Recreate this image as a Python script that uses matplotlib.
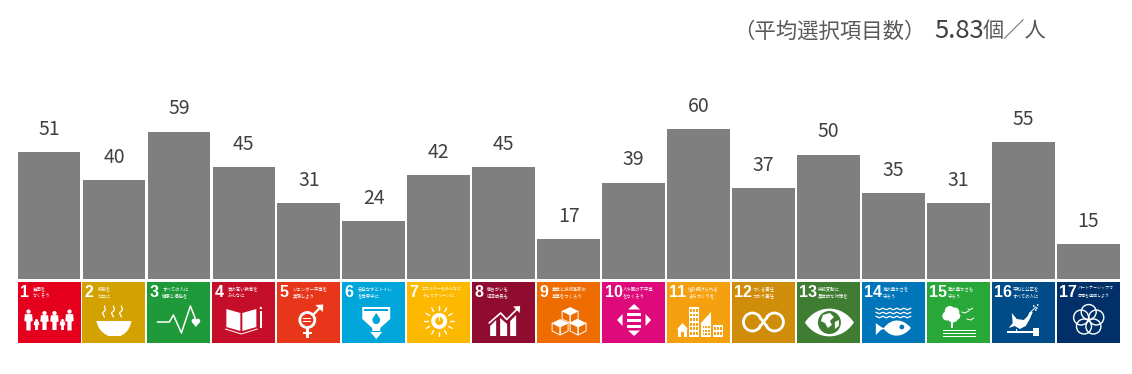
import matplotlib
matplotlib.use("Agg")
import matplotlib.pyplot as plt
from matplotlib.patches import Rectangle, Circle, Polygon, PathPatch
from matplotlib.path import Path
from matplotlib import font_manager as fm

plt.rcParams['font.family'] = ['Noto Sans CJK JP', 'DejaVu Sans']

goal_numbers = list(range(1, 18))
values = [51, 40, 59, 45, 31, 24, 42, 45, 17, 39, 60, 37, 50, 35, 31, 55, 15]
goal_line1 = ["貧困を", "飢餓を", "すべての人に", "質の高い教育を", "ジェンダー平等を", "安全な水とトイレ",
              "エネルギーをみんなに", "働きがいも", "産業と技術革新の", "人や国の不平等", "住み続けられる",
              "つくる責任", "気候変動に", "海の豊かさを", "陸の豊かさも", "平和と公正を", "パートナーシップで"]
goal_line2 = ["なくそう", "ゼロに", "健康と福祉を", "みんなに", "実現しよう", "を世界中に",
              "そしてクリーンに", "経済成長も", "基盤をつくろう", "をなくそう", "まちづくりを",
              "つかう責任", "具体的な対策を", "守ろう", "守ろう", "すべての人に", "目標を達成しよう"]
goal_colors = ["#E5001E", "#D3A100", "#1E9A3A", "#C50F2A", "#E8361A", "#00A6D9", "#FDB900", "#8F0C30",
               "#EE6C00", "#DE0A7C", "#F5A00F", "#CF8D0A", "#3F7E32", "#0075BA", "#27A838", "#004C88", "#003067"]

W, H = 1132, 374
fig = plt.figure(figsize=(W / 100, H / 100), dpi=100, facecolor="white")

# bars
STEP = 64.95
LEFT = 49 - STEP / 2
BASE = 282.3
TOP = 129.0
ax = fig.add_axes([LEFT / W, 1 - BASE / H, 17 * STEP / W, (BASE - TOP) / H])
ax.set_xlim(-0.5, 16.5)
ax.set_ylim(0, 60)
ax.axis("off")
xs = list(range(17))
ax.bar(xs, values, width=0.965, color="#7F7F7F", linewidth=0)
for x, v in zip(xs, values):
    ax.annotate(str(v), (x, v), xytext=(0, 8.8), textcoords="offset points", ha="center", va="bottom",
                fontsize=14, color="#404040", annotation_clip=False)

# full-figure pixel layer for tiles and header, above the bars
px = fig.add_axes([0, 0, 1, 1])
px.set_zorder(5)
px.set_xlim(0, W)
px.set_ylim(H, 0)
px.axis("off")
px.add_patch(Rectangle((0, 279), W, 3.5, fc="white", ec="none", zorder=1))

# header
px.text(733.5, 32, "（平均選択項目数）", fontsize=15.4, color="#595959", ha="left", va="center")
px.text(934, 31, "5.83", fontsize=18.5, color="#404040", ha="left", va="center")
px.text(983, 32, "個／人", fontsize=15.3, color="#595959", ha="left", va="center")

# a narrow bold face for the goal numbers, if one is there
NUM_FAMILY, NUM_SIZE = "Liberation Sans", 11.5
for fam in ("Liberation Sans Narrow", "DejaVu Sans Condensed"):
    try:
        fm.findfont(fm.FontProperties(family=fam, weight="bold"), fallback_to_default=False)
        NUM_FAMILY, NUM_SIZE = fam, 12.5
        break
    except ValueError:
        pass


class Icon:
    """White pictogram pieces, given in tile-local pixels."""
    def __init__(self, x0, y0, color):
        self.x0, self.y0, self.color = x0, y0, color

    def t(self, pts):
        return [(self.x0 + a, self.y0 + b) for a, b in pts]

    def rect(self, x, y, w, h, c="white"):
        px.add_patch(Rectangle((self.x0 + x, self.y0 + y), w, h, fc=c, ec="none", zorder=3))

    def circ(self, x, y, r, c="white", ec="none", lw=0):
        px.add_patch(Circle((self.x0 + x, self.y0 + y), r, fc=c, ec=ec, lw=lw, zorder=3))

    def ring(self, x, y, r, lw=1.4, c="white"):
        px.add_patch(Circle((self.x0 + x, self.y0 + y), r, fc="none", ec=c, lw=lw, zorder=3))

    def poly(self, pts, c="white", ec="none", lw=0, fill=True):
        px.add_patch(Polygon(self.t(pts), closed=True, fc=c if fill else "none", ec=ec, lw=lw, zorder=3))

    def line(self, pts, lw=1.0, c="white"):
        a = self.t(pts)
        px.plot([p[0] for p in a], [p[1] for p in a], color=c, lw=lw, solid_capstyle="round",
                solid_joinstyle="round", zorder=3)

    def curve(self, verts, codes, c="white", fill=True, lw=1.0):
        px.add_patch(PathPatch(Path(self.t(verts), codes), fc=c if fill else "none",
                               ec="none" if fill else c, lw=0 if fill else lw, zorder=3))


def person(ic, x, top, h, w):
    ic.circ(x, top + w * 0.35, w * 0.36)
    ic.poly([(x - w * 0.6, top + h * 0.22), (x + w * 0.6, top + h * 0.22), (x + w * 0.7, top + h * 0.55),
             (x + w * 0.35, top + h * 0.58), (x + w * 0.35, top + h), (x - w * 0.35, top + h),
             (x - w * 0.35, top + h * 0.58), (x - w * 0.7, top + h * 0.55)])


def icon1(ic):
    for x, top, h, w in [(11, 27.5, 21, 6), (19, 37, 11, 4), (27, 29, 19, 6),
                         (37, 29, 19, 6), (45, 37, 11, 4), (52, 27.5, 21, 6)]:
        person(ic, x, top, h, w)


def icon2(ic):
    M, C, L = Path.MOVETO, Path.CURVE4, Path.LINETO
    ic.curve([(14, 39), (16, 50), (24, 53), (26, 54), (38, 54), (40, 53), (47, 50), (49, 39), (14, 39)],
             [M, C, C, L, L, C, C, C, L])
    for x in (22, 31, 39):
        ic.line([(x, 35), (x - 2, 31), (x + 1, 28), (x, 24)], lw=0.9)


def icon3(ic):
    ic.line([(10, 40), (22, 40), (26, 33), (34, 51), (43, 24), (48, 37)], lw=1.1)
    ic.circ(46.5, 39, 2.3)
    ic.circ(50.5, 39, 2.3)
    ic.poly([(44.5, 40), (52.5, 40), (48.5, 45)])


def icon4(ic):
    ic.poly([(14, 27), (28, 31), (28, 49), (14, 45)])
    ic.poly([(30, 31), (44, 27), (44, 45), (30, 49)])
    ic.line([(13, 47), (29, 52), (45, 47)], lw=0.7)
    ic.rect(47.5, 29, 2, 17)
    ic.circ(48.5, 26, 1.2)


def icon5(ic):
    ic.ring(30, 38, 7.5, lw=2)
    ic.rect(26, 35.5, 8, 1.6)
    ic.rect(26, 38.8, 8, 1.6)
    ic.line([(35.5, 33), (44, 24.5)], lw=1.6)
    ic.poly([(38, 23), (46, 22.5), (45.5, 30)])
    ic.rect(29, 46, 2.2, 10)
    ic.rect(25.5, 50, 9, 2.2)


def icon6(ic):
    ic.poly([(20, 25), (48, 25), (48, 37), (38, 46), (38, 49), (30, 49), (30, 46), (20, 37)])
    ic.poly([(22, 27), (46, 27), (46, 29), (22, 29)], c=ic.color)
    ic.poly([(34, 31), (38, 37), (37, 40), (31, 40), (30, 37)], c=ic.color)
    ic.circ(34, 38.5, 3.6, c=ic.color)
    ic.poly([(28, 50), (40, 50), (34, 57)])


def icon7(ic):
    cx, cy = 32, 39
    ic.circ(cx, cy, 8)
    ic.circ(cx, cy, 4, c=ic.color)
    ic.rect(cx - 0.7, cy - 5, 1.4, 4.5)
    rays = [(0, -15, 0, -11), (7.5, -13, 5.5, -9.5), (13, -7.5, 9.5, -5.5), (15, 0, 11, 0),
            (13, 7.5, 9.5, 5.5), (7.5, 13, 5.5, 9.5), (0, 15, 0, 11), (-7.5, 13, -5.5, 9.5),
            (-13, 7.5, -9.5, 5.5), (-15, 0, -11, 0), (-13, -7.5, -9.5, -5.5), (-7.5, -13, -5.5, -9.5)]
    for a, b, c, d in rays:
        ic.line([(cx + a, cy + b), (cx + c, cy + d)], lw=1.0)


def icon8(ic):
    ic.poly([(18, 44), (24, 38), (24, 54), (18, 54)])
    ic.poly([(28, 36), (35, 42), (35, 54), (28, 54)])
    ic.poly([(38, 39), (44, 33), (44, 54), (38, 54)])
    ic.line([(17, 41), (28.5, 31), (34.5, 37.5), (45, 27)], lw=1.2)
    ic.poly([(41, 24.5), (48, 24), (47.5, 31)])


def cube(ic, x, y, r):
    top = [(x, y - r), (x + r, y - r / 2), (x, y), (x - r, y - r / 2)]
    left = [(x - r, y - r / 2), (x, y), (x, y + r), (x - r, y + r / 2)]
    right = [(x + r, y - r / 2), (x, y), (x, y + r), (x + r, y + r / 2)]
    ic.poly(top)
    for f in (left, right):
        ic.poly(f, ec="white", lw=0.7, fill=False)


def icon9(ic):
    cube(ic, 33, 33, 8)
    cube(ic, 23, 45, 8)
    cube(ic, 41, 45, 8)


def icon10(ic):
    ic.poly([(32, 22), (38, 27.5), (26, 27.5)])
    ic.poly([(32, 54), (38, 48.5), (26, 48.5)])
    ic.poly([(15, 38), (20.5, 32), (20.5, 44)])
    ic.poly([(49, 38), (43.5, 32), (43.5, 44)])
    for y in (30.5, 36.5, 42.5):
        ic.rect(25, y, 14, 3)


def icon11(ic):
    ic.poly([(15.5, 41), (21, 47), (10, 47)])
    ic.rect(11, 47, 9, 8)
    ic.rect(14, 50, 3, 5, c=ic.color)
    ic.rect(22, 25, 10, 30)
    for r in range(6):
        for c_ in range(3):
            ic.rect(23 + c_ * 3, 27 + r * 4.6, 1.8, 2.8, c=ic.color)
    ic.poly([(34, 55), (34, 41), (44, 30), (44, 55)])
    for r in range(3):
        for c_ in range(3):
            ic.rect(35.5 + c_ * 2.8, 44 + r * 3.6, 1.6, 2.2, c=ic.color)
    ic.rect(46, 43, 10, 12)
    for r in range(2):
        for c_ in range(3):
            ic.rect(47 + c_ * 3, 45 + r * 4.6, 1.9, 3, c=ic.color)


def icon12(ic):
    ic.ring(20.5, 40, 9, lw=2)
    ic.ring(42.5, 40, 9, lw=2)
    ic.rect(28, 34, 7, 12, c=ic.color)
    ic.line([(27, 34), (36, 46)], lw=2)
    ic.line([(27, 46), (36, 34)], lw=2)


def icon13(ic):
    M, C = Path.MOVETO, Path.CURVE4
    ic.curve([(8, 40.5), (20, 22), (45, 22), (57, 40.5), (45, 59), (20, 59), (8, 40.5)],
             [M, C, C, C, C, C, C])
    ic.circ(32.5, 40.5, 11.5, c=ic.color)
    ic.poly([(26, 33), (33, 31), (37, 35), (33, 39), (35, 43), (31, 46), (28, 41), (24, 39)])
    ic.poly([(38, 40), (42, 38), (42, 44), (38, 47)])


def icon14(ic):
    for y in (27, 31, 35):
        pts = [(14 + i * 3.5, y + (0.8 if i % 2 else -0.8)) for i in range(11)]
        ic.line(pts, lw=0.9)
    M, C, L = Path.MOVETO, Path.CURVE4, Path.LINETO
    ic.curve([(14, 41), (19, 45), (19, 45), (22, 46), (30, 35), (42, 37), (49, 46),
              (42, 55), (30, 57), (22, 47), (19, 48), (19, 48), (14, 53), (14, 41)],
             [M, C, C, L, C, C, C, C, C, C, L, L, L, L])
    ic.circ(40, 45, 2.4, c=ic.color)


def icon15(ic):
    for x, y, r in [(23, 29, 5), (28, 30, 4.5), (20, 34, 4.5), (26, 35, 5.5), (30, 34, 3.5)]:
        ic.circ(x, y, r)
    ic.rect(24, 38, 2, 8)
    for y in (48, 51, 54):
        ic.rect(16, y, 33, 1.3)
    for pts in ([(35, 30), (38, 31), (42, 29)], [(41, 27), (43, 28), (46, 26)], [(40, 37), (44, 38), (47, 36)]):
        ic.line(pts, lw=0.7)


def icon16(ic):
    ic.poly([(20, 31), (25, 37), (32, 38), (36, 34), (38, 30), (41, 30), (38, 37), (34, 44), (28, 47), (23, 44), (17, 46), (21, 41)])
    ic.line([(38, 31), (44, 25)], lw=0.7)
    for x, y in [(42, 24), (45, 26), (44, 28), (46, 23)]:
        ic.circ(x, y, 0.9)
    ic.rect(15, 49, 27, 1.8)
    ic.rect(41, 46, 6, 8)
    ic.rect(24, 47, 1.2, 3)


def icon17(ic):
    for dx, dy in [(0, -8), (7.6, -2.5), (4.7, 6.5), (-4.7, 6.5), (-7.6, -2.5)]:
        ic.ring(32 + dx, 38 + dy, 7.5, lw=1.0)


icons = [icon1, icon2, icon3, icon4, icon5, icon6, icon7, icon8, icon9, icon10, icon11, icon12,
         icon13, icon14, icon15, icon16, icon17]

TILE_W, TILE_H, TILE_Y = 63, 61, 282
for i, (n, a, b, col, draw) in enumerate(zip(goal_numbers, goal_line1, goal_line2, goal_colors, icons)):
    x0 = 49 + STEP * i - TILE_W / 2
    px.add_patch(Rectangle((x0, TILE_Y), TILE_W, TILE_H, fc=col, ec="none", zorder=2))
    px.text(x0 + 2.5, TILE_Y + 10.5, str(n), family=NUM_FAMILY, fontweight="bold",
            fontsize=NUM_SIZE, color="white", ha="left", va="center", zorder=3)
    tx = x0 + (21 if n >= 10 else 15)
    fs = 2.9 if len(a) >= 9 else 3.2
    px.text(tx, TILE_Y + 7, a, fontsize=fs, color="white", ha="left", va="center", zorder=3)
    px.text(tx, TILE_Y + 14, b, fontsize=fs, color="white", ha="left", va="center", zorder=3)
    draw(Icon(x0, TILE_Y, col))

px.set_xlim(0, W)
px.set_ylim(H, 0)
fig.savefig("out.png", dpi=100, facecolor="white")
